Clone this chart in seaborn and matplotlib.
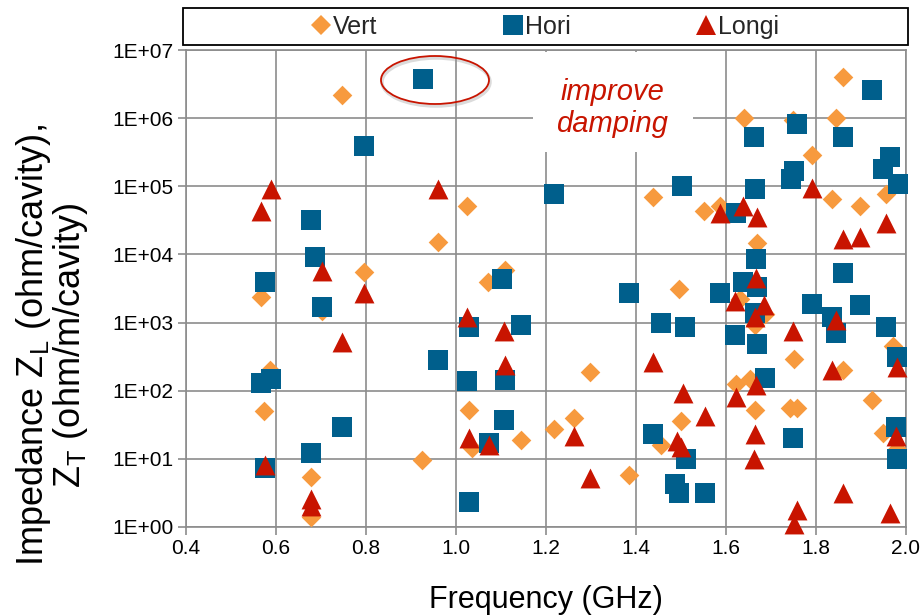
import numpy as np
import pandas as pd
import matplotlib
matplotlib.use("Agg")
import matplotlib.pyplot as plt
import seaborn as sns
from matplotlib.lines import Line2D
from matplotlib.patches import Ellipse, Rectangle
from matplotlib.ticker import FixedLocator, FuncFormatter, NullLocator

# ---------------- data ----------------
series_names = ["Vert", "Hori", "Longi"]

vert_freq = [0.747, 0.567, 0.702, 0.796, 0.587, 0.573, 0.924, 0.678, 0.678,
             1.024, 0.960, 1.109, 1.071, 1.029, 1.036, 1.144, 1.218, 1.262,
             1.298, 1.384, 1.438, 1.456, 1.496, 1.500, 1.551, 1.587, 1.640,
             1.749, 1.844, 1.860, 1.791, 1.836, 1.898, 1.956, 1.669, 1.664,
             1.631, 1.687, 1.622, 1.653, 1.664, 1.742, 1.758, 1.751, 1.860,
             1.924, 1.949, 1.971, 1.980]
vert_imp = [2.2e6, 2.4e3, 1.5e3, 5.6e3, 200, 50, 9.5, 5.5, 1.4,
            5.2e4, 1.5e4, 6.0e3, 4.0e3, 52, 14.5, 19, 27, 40,
            190, 5.8, 6.9e4, 16, 3.1e3, 36, 4.4e4, 5.2e4, 1.0e6,
            9.5e5, 1.0e6, 4.0e6, 2.9e5, 6.5e4, 5.1e4, 7.6e4, 1.45e4, 930,
            2.2e3, 1.35e3, 125, 150, 52, 55, 55, 290, 200,
            74, 24, 460, 14]

hori_freq = [0.927, 0.796, 0.678, 0.687, 0.576, 0.702, 0.589, 0.567, 0.747,
             0.678, 0.576, 1.218, 1.102, 1.384, 1.456, 1.029, 1.144, 0.960,
             1.024, 1.109, 1.107, 1.073, 1.438, 1.029, 1.924, 1.758, 1.662,
             1.860, 1.964, 1.949, 1.751, 1.744, 1.982, 1.502, 1.664, 1.622,
             1.667, 1.638, 1.669, 1.860, 1.587, 1.664, 1.791, 1.898, 1.836,
             1.844, 1.956, 1.980, 1.509, 1.620, 1.669, 1.687, 1.749, 1.978,
             1.980, 1.511, 1.487, 1.496, 1.553]
hori_imp = [3.7e6, 3.9e5, 3.2e4, 9.1e3, 3.9e3, 1.7e3, 150, 130, 29,
            12, 7.4, 7.6e4, 4.4e3, 2.7e3, 980, 870, 910, 280,
            141, 145, 37, 17, 23, 2.35, 2.6e6, 8.1e5, 5.2e5,
            5.2e5, 2.7e5, 1.8e5, 1.7e5, 1.3e5, 1.07e5, 1.0e5, 9.1e4, 4.0e4,
            8.7e3, 3.9e3, 3.3e3, 5.3e3, 2.7e3, 1.4e3, 1.9e3, 1.8e3, 1.2e3,
            710, 850, 310, 850, 660, 480, 155, 20, 29,
            10, 10, 4.3, 3.2, 3.2]

longi_freq = [0.589, 0.567, 0.702, 0.796, 0.747, 0.576, 0.678, 0.678, 0.960,
              1.024, 1.107, 1.109, 1.029, 1.073, 1.262, 1.298, 1.438, 1.791,
              1.956, 1.860, 1.898, 1.587, 1.638, 1.669, 1.667, 1.620, 1.684,
              1.664, 1.749, 1.844, 1.836, 1.980, 1.667, 1.622, 1.504, 1.553,
              1.664, 1.978, 1.491, 1.500, 1.662, 1.860, 1.758, 1.964, 1.751]
longi_imp = [9.1e4, 4.3e4, 5.8e3, 2.7e3, 520, 8, 2.6, 2.0, 9.1e4,
             1.2e3, 740, 235, 20, 16, 22, 5.3, 260, 9.3e4,
             2.9e4, 1.7e4, 1.8e4, 4.0e4, 5.1e4, 3.6e4, 4.5e3, 2.1e3, 1.8e3,
             1.2e3, 740, 1.1e3, 200, 220, 123, 80, 92, 42,
             23, 22, 18, 15, 9.8, 3.2, 1.8, 1.6, 1.1]

x_ticks = [0.4, 0.6, 0.8, 1.0, 1.2, 1.4, 1.6, 1.8, 2.0]
y_ticks = [1e0, 1e1, 1e2, 1e3, 1e4, 1e5, 1e6, 1e7]

colors = {"Vert": "#F79A3E", "Hori": "#005F8C", "Longi": "#C81400"}
markers = {"Vert": "D", "Hori": "s", "Longi": "^"}
msizes = {"Vert": 100, "Hori": 200, "Longi": 205}

df = pd.concat([
    pd.DataFrame({"freq": vert_freq, "imp": vert_imp, "series": "Vert"}),
    pd.DataFrame({"freq": hori_freq, "imp": hori_imp, "series": "Hori"}),
    pd.DataFrame({"freq": longi_freq, "imp": longi_imp, "series": "Longi"}),
], ignore_index=True)

# ---------------- style ----------------
sns.set_theme(style="white")
plt.rcParams["font.family"] = ["Liberation Sans", "DejaVu Sans"]
plt.rcParams["mathtext.fontset"] = "custom"
plt.rcParams["mathtext.rm"] = "Liberation Sans"
plt.rcParams["mathtext.it"] = "Liberation Sans:italic"

fig = plt.figure(figsize=(9.24, 6.16), dpi=100)
ax = fig.add_axes([186 / 924, 1 - 527 / 616, 720 / 924, 477 / 616])

for name in series_names:
    sub = df[df["series"] == name]
    sns.scatterplot(data=sub, x="freq", y="imp", ax=ax, marker=markers[name],
                    color=colors[name], s=msizes[name], linewidth=0,
                    legend=False, zorder=3, clip_on=False)

ax.set_yscale("log")
ax.set_xlim(0.4, 2.0)
ax.set_ylim(1, 1e7)
ax.xaxis.set_major_locator(FixedLocator(x_ticks))
ax.yaxis.set_major_locator(FixedLocator(y_ticks))
ax.yaxis.set_minor_locator(NullLocator())
ax.xaxis.set_major_formatter(FuncFormatter(lambda v, p: f"{v:.1f}"))
ax.yaxis.set_major_formatter(
    FuncFormatter(lambda v, p: f"1E+{int(round(np.log10(v))):02d}"))

grid_col = "#8C8C8C"
ax.set_axisbelow(True)
ax.grid(True, which="major", color=grid_col, linewidth=1.2)
for sp in ax.spines.values():
    sp.set_color(grid_col)
    sp.set_linewidth(1.2)
ax.tick_params(axis="both", which="major", direction="out", length=6,
               width=1.2, color=grid_col, labelsize=15, labelcolor="black",
               pad=3, bottom=True, left=True)

ax.set_xlabel("Frequency (GHz)", fontsize=22, color="black")
ax.xaxis.set_label_coords(0.5, -(600 - 527) / 477)
ax.xaxis.label.set_va("center")
ax.set_ylabel("Impedance $\\mathregular{Z_L}$ (ohm/cavity),\n"
              "$\\mathregular{Z_T}$ (ohm/m/cavity)",
              fontsize=26, color="black", linespacing=0.95)
ax.yaxis.set_label_coords(-(186 - 52) / 720, (527 - 345) / 477)
ax.yaxis.label.set_va("center")

# white box behind annotation text
ax.add_patch(Rectangle(((533 - 186) / 720, (527 - 152) / 477),
                       160 / 720, 100 / 477, transform=ax.transAxes,
                       facecolor="white", edgecolor="none", zorder=1))
ax.text((612 - 186) / 720, (527 - 108) / 477, "improve\ndamping",
        transform=ax.transAxes, ha="center", va="center", fontsize=21,
        style="italic", color="#C81400", linespacing=1.2, zorder=4)

# ellipse highlight (with soft shadow)
ax.add_patch(Ellipse(((436 - 186) / 720, (527 - 82) / 477), 108 / 720,
                     48 / 477, transform=ax.transAxes, facecolor="none",
                     edgecolor="#999999", linewidth=2.5, alpha=0.35, zorder=3))
ax.add_patch(Ellipse(((435 - 186) / 720, (527 - 80) / 477), 108 / 720,
                     48 / 477, transform=ax.transAxes, facecolor="none",
                     edgecolor="#C81400", linewidth=1.3, zorder=4))

# legend box
fig.patches.append(Rectangle((183 / 924, 1 - 45 / 616), 725 / 924, 37 / 616,
                             transform=fig.transFigure, facecolor="white",
                             edgecolor="black", linewidth=1.3))
handles = [Line2D([], [], linestyle="none", marker=markers[n],
                  color=colors[n], markersize=np.sqrt(msizes[n]),
                  markeredgewidth=0) for n in series_names]
fig.legend(handles, series_names, loc="center",
           bbox_to_anchor=(545 / 924, 1 - 27 / 616), ncol=3, frameon=False,
           fontsize=18, handlelength=0.8, handletextpad=0.1,
           columnspacing=5.0, borderpad=0.2)

fig.savefig("out.png", dpi=100)
